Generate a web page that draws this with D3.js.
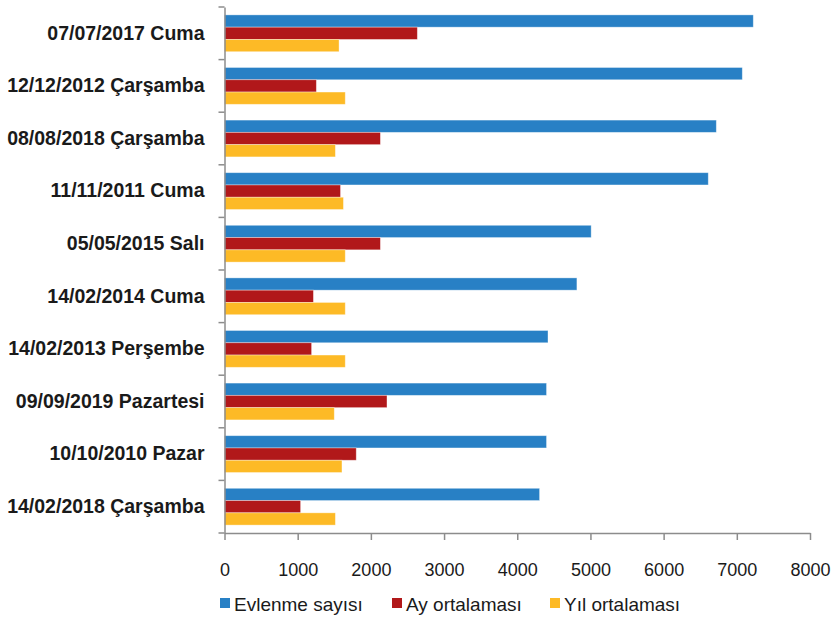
<!DOCTYPE html>
<html>
<head>
<meta charset="utf-8">
<script src="https://cdn.jsdelivr.net/npm/d3@7"></script>
<style>
  body { margin: 0; background: #fff; }
  svg { font-family: "Liberation Sans", Arial, sans-serif; }
</style>
</head>
<body>
<div id="chart"></div>
<script>
// data
var categories = ["07/07/2017 Cuma", "12/12/2012 Çarşamba", "08/08/2018 Çarşamba", "11/11/2011 Cuma",
  "05/05/2015 Salı", "14/02/2014 Cuma", "14/02/2013 Perşembe", "09/09/2019 Pazartesi",
  "10/10/2010 Pazar", "14/02/2018 Çarşamba"];
var seriesNames = ["Evlenme sayısı", "Ay ortalaması", "Yıl ortalaması"];
var evlenme = [7225, 7075, 6720, 6610, 5010, 4815, 4420, 4400, 4400, 4305];
var ayOrt = [2635, 1255, 2130, 1585, 2130, 1215, 1190, 2220, 1800, 1040];
var yilOrt = [1565, 1650, 1515, 1625, 1650, 1650, 1650, 1500, 1605, 1515];
var xTicks = [0, 1000, 2000, 3000, 4000, 5000, 6000, 7000, 8000];
var colors = ["#2880c5", "#b1181a", "#fdba26"];

var width = 832, height = 617;
var margin = {top: 7, left: 224.5, right: 22, bottom: 84};

var data = categories.map(function(c, i) {
  return {cat: c, values: [evlenme[i], ayOrt[i], yilOrt[i]]};
});

var svg = d3.select("#chart").append("svg")
  .attr("width", width)
  .attr("height", height);

var x = d3.scaleLinear()
  .domain([0, 8000])
  .range([margin.left, width - margin.right]);

var y = d3.scaleBand()
  .domain(categories)
  .range([margin.top, height - margin.bottom])
  .paddingInner(0.3)
  .paddingOuter(0.15);

var ySub = d3.scaleBand()
  .domain(d3.range(3))
  .range([0, y.bandwidth()]);

// bars
var groups = svg.selectAll(".grp")
  .data(data)
  .enter().append("g")
  .attr("class", "grp")
  .attr("transform", function(d) { return "translate(0," + y(d.cat) + ")"; });

groups.selectAll("rect")
  .data(function(d) { return d.values; })
  .enter().append("rect")
  .attr("x", x(0))
  .attr("y", function(d, i) { return ySub(i); })
  .attr("width", function(d) { return x(d) - x(0); })
  .attr("height", ySub.bandwidth())
  .attr("fill", function(d, i) { return colors[i]; })
  .attr("stroke", "#fff")
  .attr("stroke-opacity", 0.45)
  .attr("stroke-width", 0.8);

// x axis
var xAxis = svg.append("g")
  .attr("transform", "translate(0," + (height - margin.bottom) + ")")
  .call(d3.axisBottom(x).tickValues(xTicks).tickFormat(d3.format("d"))
    .tickSize(7).tickSizeOuter(0).tickPadding(23));
xAxis.select(".domain").attr("stroke", "#8c8c8c").attr("stroke-width", 1.5);
xAxis.selectAll(".tick line").attr("stroke", "#8c8c8c").attr("stroke-width", 1.5);
xAxis.selectAll("text")
  .attr("font-size", "18px")
  .attr("fill", "#1a1a1a")
  .attr("font-family", "Liberation Sans, Arial, sans-serif");

// y axis with labels, ticks between the groups
var yAxis = svg.append("g")
  .attr("transform", "translate(" + margin.left + ",0)")
  .call(d3.axisLeft(y).tickSize(0).tickPadding(20));
yAxis.select(".domain").attr("stroke", "#8c8c8c").attr("stroke-width", 1.5);
yAxis.selectAll("text")
  .attr("font-size", "19.5px")
  .attr("font-weight", "bold")
  .attr("fill", "#1a1a1a")
  .attr("font-family", "Liberation Sans, Arial, sans-serif");

var bounds = categories.map(function(c) { return y(c) - y.step() * y.paddingInner() / 2; });
bounds.push(y(categories[categories.length - 1]) + y.bandwidth() + y.step() * y.paddingInner() / 2);
svg.selectAll(".ytick")
  .data(bounds)
  .enter().append("line")
  .attr("x1", margin.left - 6)
  .attr("x2", margin.left)
  .attr("y1", function(d) { return d; })
  .attr("y2", function(d) { return d; })
  .attr("stroke", "#8c8c8c")
  .attr("stroke-width", 1.5);

// legend
var legendX = [220, 392, 550];
var legend = svg.selectAll(".leg")
  .data(seriesNames)
  .enter().append("g")
  .attr("class", "leg")
  .attr("transform", function(d, i) { return "translate(" + legendX[i] + ",598)"; });
legend.append("rect")
  .attr("width", 10).attr("height", 10)
  .attr("fill", function(d, i) { return colors[i]; });
legend.append("text")
  .attr("x", 14)
  .attr("y", 13)
  .attr("font-size", "19px")
  .attr("fill", "#1a1a1a")
  .text(function(d) { return d; });
</script>
</body>
</html>
